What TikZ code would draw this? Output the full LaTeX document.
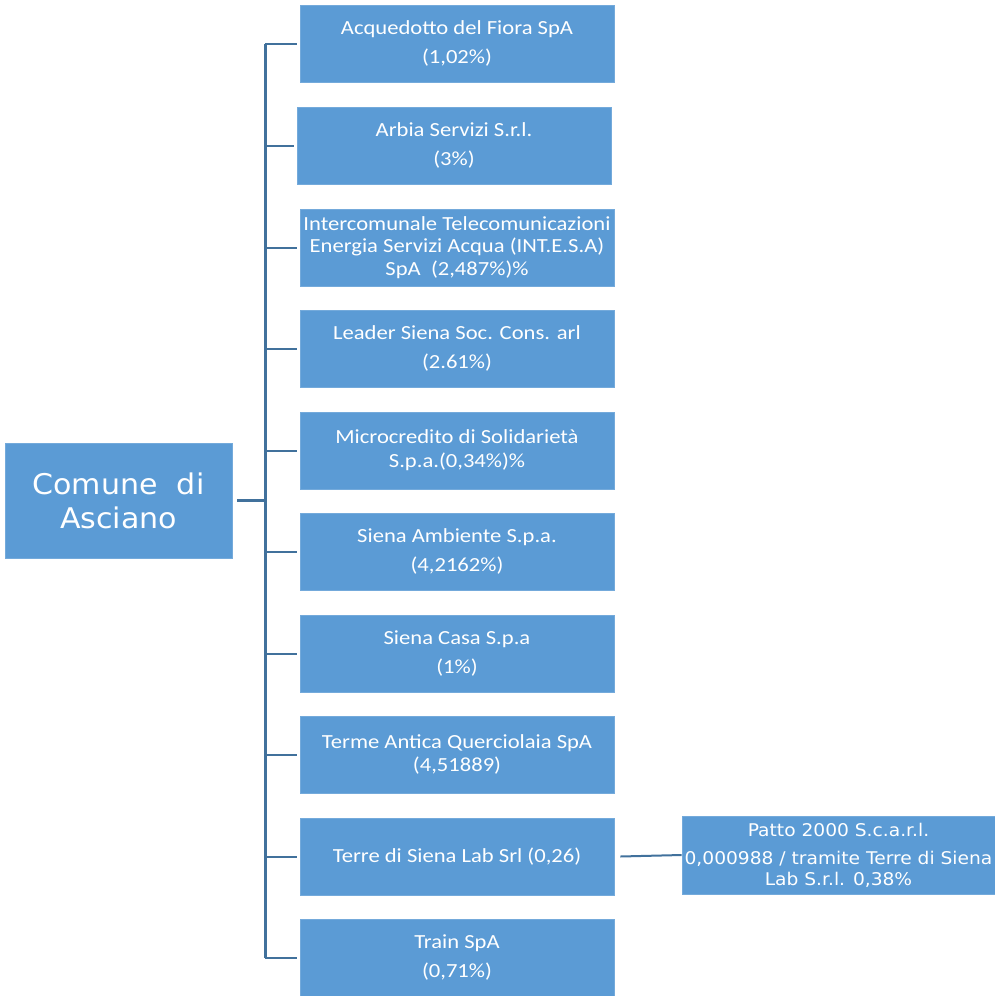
\documentclass[tikz,border=0pt]{standalone}
\usepackage{fontspec}
\setmainfont{Carlito}
\newfontfamily\boxfont[FakeStretch=1.13]{Carlito}
\newfontfamily\rootfont[FakeStretch=1.055]{DejaVu Sans}
\newfontfamily\subfont[FakeStretch=1.065]{DejaVu Sans}
\definecolor{boxblue}{RGB}{91,155,213}
\definecolor{lineblue}{RGB}{65,113,156}
\tikzset{
  box/.style={fill=boxblue, draw=boxblue!85!white, line width=0.6pt, text=white, align=center,
    minimum width=314pt, minimum height=77pt, inner sep=0pt,
    font=\boxfont\fontsize{20}{22.8}\selectfont},
  rootbox/.style={fill=boxblue, draw=boxblue!85!white, line width=0.6pt, text=white, align=center,
    minimum width=227pt, minimum height=115pt, inner sep=0pt,
    font=\rootfont\fontsize{28.5}{34}\selectfont},
  subbox/.style={fill=boxblue, draw=boxblue!85!white, line width=0.6pt, text=white, align=center,
    minimum width=313pt, minimum height=78pt, inner sep=0pt,
    font=\subfont\fontsize{17.5}{20.5}\selectfont},
  trunk/.style={draw=lineblue, line width=3pt},
  tick/.style={draw=lineblue, line width=2pt},
}
\begin{document}
\begin{tikzpicture}[x=1pt,y=-1pt]
\useasboundingbox (0,0) rectangle (995,996);
\node[rootbox] (root) at (118.5,500.5) {Comune\ \ di\\Asciano};
\node[box] (b1) at (457,43.5) {Acquedotto del Fiora SpA\\[7pt](1,02\%)};
\node[box] (b2) at (454,145.5) {Arbia Servizi S.r.l.\\[7pt](3\%)};
\node[box] (b3) at (457,247.5) {Intercomunale Telecomunicazioni\\Energia Servizi Acqua (INT.E.S.A)\\SpA\ \ (2,487\%)\%};
\node[box] (b4) at (457,348.5) {Leader Siena Soc. Cons. arl\\[7pt](2.61\%)};
\node[box] (b5) at (457,450.5) {Microcredito di Solidarietà\\[1pt]S.p.a.(0,34\%)\%};
\node[box] (b6) at (457,551.5) {Siena Ambiente S.p.a.\\[7pt](4,2162\%)};
\node[box] (b7) at (457,653.5) {Siena Casa S.p.a\\[7pt](1\%)};
\node[box] (b8) at (457,754.5) {Terme Antica Querciolaia SpA\\[1pt](4,51889)};
\node[box] (b9) at (457,856.5) {Terre di Siena Lab Srl (0,26)};
\node[box] (b10) at (457,957.5) {Train SpA\\[7pt](0,71\%)};
\node[subbox] (patto) at (838.5,855) {Patto 2000 S.c.a.r.l.\\[8pt]0,000988 / tramite Terre di Siena\\Lab S.r.l. 0,38\%};
\coordinate (ttop) at (265,43.5);
\coordinate (tbot) at (265,957.5);
\draw[trunk] (ttop) -- (tbot);
\draw[trunk] (root.east) ++(5,0) coordinate (rc) (rc) -- (root.east -| ttop);
\foreach \b in {b1,b2,b3,b4,b5,b6,b7,b8,b9,b10}{
  \draw[tick] (\b.west -| ttop) -- ([xshift=-3pt]\b.west);
}
\draw[tick] (b9.east) ++(6,0) coordinate (c9) (c9) -- (patto.west);
\end{tikzpicture}
\end{document}
